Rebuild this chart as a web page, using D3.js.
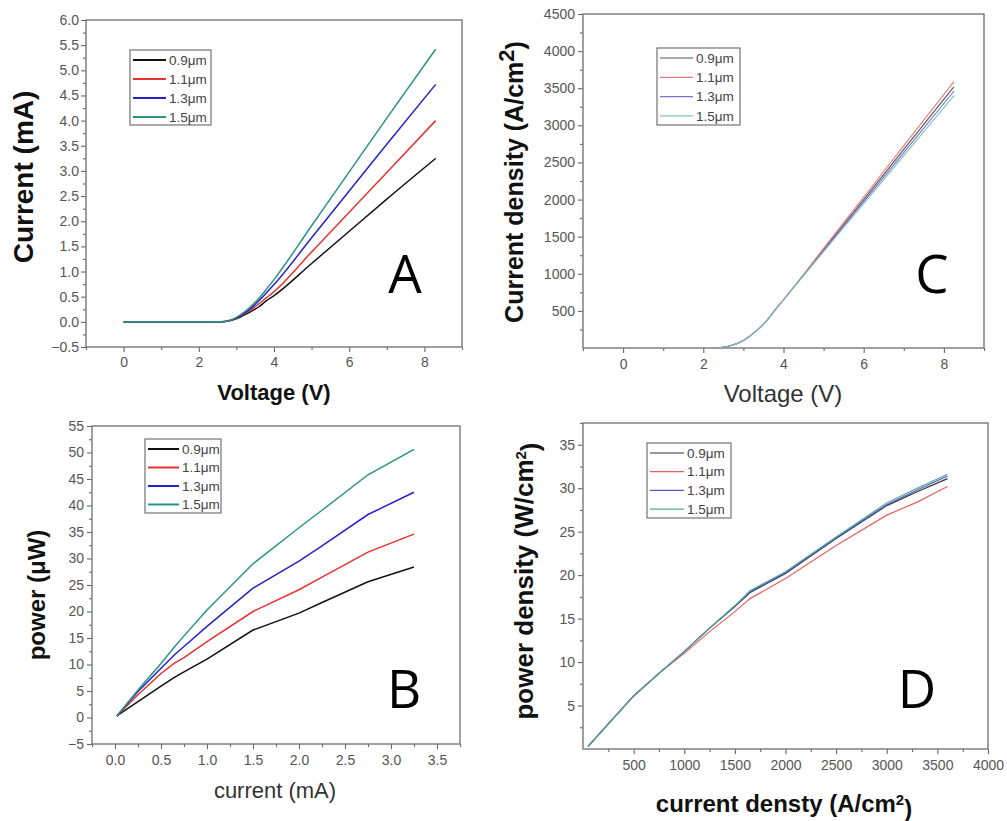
<!DOCTYPE html>
<html><head><meta charset="utf-8">
<script src="https://cdn.jsdelivr.net/npm/d3@7/dist/d3.min.js"></script>
<style>
html,body{margin:0;padding:0;background:#fff;}
svg{display:block;font-family:"Liberation Sans",Arial,sans-serif;}
.tick line{stroke:#666;stroke-width:1.1;}
.tick text{fill:#555;}
</style></head>
<body>
<svg id="chart" width="1007" height="821"></svg>
<script>
// ---------- DATA ----------
const seriesLabels = ["0.9\u03bcm", "1.1\u03bcm", "1.3\u03bcm", "1.5\u03bcm"];

// Panel A: Current (mA) vs Voltage (V)
const voltageA = [0, 1, 2, 2.6, 3.0, 3.3, 3.6, 3.8, 4.0, 5, 6, 7, 8.3];
const currentA_09 = [0, 0, 0, 0, 0.06, 0.17, 0.30, 0.42, 0.52, 1.16, 1.80, 2.44, 3.25];
const currentA_11 = [0, 0, 0, 0, 0.07, 0.20, 0.36, 0.48, 0.60, 1.39, 2.18, 2.97, 4.00];
const currentA_13 = [0, 0, 0, 0, 0.08, 0.22, 0.42, 0.58, 0.74, 1.67, 2.60, 3.53, 4.72];
const currentA_15 = [0, 0, 0, 0, 0.09, 0.25, 0.47, 0.65, 0.84, 1.91, 2.98, 4.05, 5.42];
const ticksAx = [0, 2, 4, 6, 8];
const ticksAy = [-0.5, 0, 0.5, 1, 1.5, 2, 2.5, 3, 3.5, 4, 4.5, 5, 5.5, 6];

// Panel C: Current density (A/cm2) vs Voltage (V)
const voltageC = [2.3, 2.6, 3.0, 3.3, 3.6, 3.8, 4.0, 5, 6, 7, 8.25];
const densityC_09 = [0, 20, 100, 220, 380, 520, 650, 1325, 2000, 2675, 3520];
const densityC_11 = [0, 20, 100, 220, 380, 520, 650, 1342, 2034, 2726, 3590];
const densityC_13 = [0, 20, 100, 220, 380, 520, 650, 1311, 1972, 2633, 3460];
const densityC_15 = [0, 20, 100, 220, 380, 520, 650, 1297, 1944, 2591, 3400];
const ticksCx = [0, 2, 4, 6, 8];
const ticksCy = [500, 1000, 1500, 2000, 2500, 3000, 3500, 4000, 4500];

// Panel B: power (uW) vs current (mA)
const currentB = [0.02, 0.25, 0.5, 0.65, 0.75, 1.0, 1.5, 2.0, 2.25, 2.75, 3.25];
const powerB_09 = [0.3, 3.0, 5.9, 7.6, 8.6, 11.0, 16.5, 19.7, 21.7, 25.6, 28.4];
const powerB_11 = [0.3, 4.3, 8.3, 10.3, 11.3, 14.3, 20.0, 24.1, 26.5, 31.2, 34.6];
const powerB_13 = [0.3, 4.9, 9.3, 11.9, 13.4, 17.2, 24.4, 29.5, 32.4, 38.3, 42.5];
const powerB_15 = [0.3, 5.2, 10.2, 13.4, 15.4, 20.3, 29.0, 35.8, 39.1, 45.8, 50.6];
const ticksBx = [0, 0.5, 1.0, 1.5, 2.0, 2.5, 3.0, 3.5];
const ticksBy = [-5, 0, 5, 10, 15, 20, 25, 30, 35, 40, 45, 50, 55];

// Panel D: power density (W/cm2) vs current density (A/cm2)
const densityD = [50, 250, 500, 750, 1000, 1250, 1500, 1650, 2000, 2500, 3000, 3300, 3600];
const powerD_09 = [0.3, 2.9, 6.1, 8.7, 11.2, 13.9, 16.4, 18.0, 20.2, 24.2, 28.0, 29.6, 31.1];
const powerD_11 = [0.3, 2.9, 6.1, 8.7, 11.0, 13.5, 15.8, 17.3, 19.6, 23.4, 26.9, 28.4, 30.2];
const powerD_13 = [0.3, 2.9, 6.1, 8.7, 11.2, 13.9, 16.4, 18.1, 20.3, 24.3, 28.1, 29.8, 31.4];
const powerD_15 = [0.3, 2.9, 6.1, 8.7, 11.2, 13.9, 16.5, 18.2, 20.4, 24.4, 28.3, 30.0, 31.6];
const ticksDx = [500, 1000, 1500, 2000, 2500, 3000, 3500, 4000];
const ticksDy = [5, 10, 15, 20, 25, 30, 35];

// ---------- DRAW ----------
const svg = d3.select("#chart");

function panel(cfg) {
  const g = svg.append("g");
  const x = d3.scaleLinear().domain(cfg.xDomain).range([cfg.left, cfg.right]);
  const y = d3.scaleLinear().domain(cfg.yDomain).range([cfg.bottom, cfg.top]);

  // minor ticks
  g.append("g").attr("transform", `translate(0,${cfg.bottom})`)
    .call(d3.axisBottom(x).tickValues(cfg.xMinor).tickSize(3).tickFormat(""))
    .call(s => s.select(".domain").remove());
  g.append("g").attr("transform", `translate(${cfg.left},0)`)
    .call(d3.axisLeft(y).tickValues(cfg.yMinor).tickSize(3).tickFormat(""))
    .call(s => s.select(".domain").remove());
  // major ticks
  g.append("g").attr("transform", `translate(0,${cfg.bottom})`)
    .call(d3.axisBottom(x).tickValues(cfg.xTicks).tickSize(5).tickPadding(cfg.xPad).tickFormat(cfg.xFmt))
    .call(s => s.select(".domain").remove())
    .selectAll("text").attr("font-size", cfg.tickFont);
  g.append("g").attr("transform", `translate(${cfg.left},0)`)
    .call(d3.axisLeft(y).tickValues(cfg.yTicks).tickSize(5).tickPadding(cfg.yPad).tickFormat(cfg.yFmt))
    .call(s => s.select(".domain").remove())
    .selectAll("text").attr("font-size", cfg.tickFont);

  // frame
  g.append("rect").attr("x", cfg.left).attr("y", cfg.top)
    .attr("width", cfg.right - cfg.left).attr("height", cfg.bottom - cfg.top)
    .attr("fill", "none").attr("stroke", "#777").attr("stroke-width", 1.4);

  // lines
  const line = d3.line().x(d => x(d[0])).y(d => y(d[1])).curve(cfg.curve);
  cfg.series.forEach((s, i) => {
    const pts = cfg.xs.map((v, j) => [v, s[j]]);
    g.append("path").attr("d", line(pts)).attr("fill", "none")
      .attr("stroke", cfg.colors[i]).attr("stroke-width", cfg.lw);
  });

  // legend
  const L = cfg.legend;
  g.append("rect").attr("x", L.x).attr("y", L.y).attr("width", L.w).attr("height", L.h)
    .attr("fill", "#fff").attr("stroke", "#666").attr("stroke-width", 1.1);
  seriesLabels.forEach((lab, i) => {
    const yy = L.y + L.y0 + i * L.dy;
    g.append("line").attr("x1", L.x + 3).attr("x2", L.x + 3 + L.len).attr("y1", yy).attr("y2", yy)
      .attr("stroke", cfg.colors[i]).attr("stroke-width", cfg.legLw);
    g.append("text").attr("x", L.x + 6 + L.len).attr("y", yy).attr("dy", "0.35em")
      .attr("font-size", L.font).attr("fill", "#444").text(lab);
  });

  // big letter
  g.append("text").attr("x", cfg.letter[0]).attr("y", cfg.letter[1])
    .attr("text-anchor", "middle").attr("font-family", "'Open Sans',sans-serif")
    .attr("font-size", 53).attr("fill", "#000").text(cfg.letterText);

  // x title
  const xt = g.append("text").attr("x", cfg.xTitle.x).attr("y", cfg.xTitle.y)
    .attr("text-anchor", "middle").attr("font-size", cfg.xTitle.size)
    .attr("font-weight", cfg.xTitle.bold ? "bold" : "normal").attr("fill", cfg.xTitle.bold ? "#111" : "#333");
  cfg.xTitle.parts.forEach(p => xt.append("tspan").attr("dy", p.dy || 0)
    .attr("font-size", p.size || null).text(p.t));

  // y title
  const yt = g.append("text")
    .attr("transform", `translate(${cfg.yTitle.x},${cfg.yTitle.y}) rotate(-90)`)
    .attr("text-anchor", "middle").attr("font-size", cfg.yTitle.size)
    .attr("font-weight", "bold").attr("fill", "#111");
  cfg.yTitle.parts.forEach(p => yt.append("tspan").attr("dy", p.dy || 0)
    .attr("font-size", p.size || null).text(p.t));
}

const strongColors = ["#111111", "#e8322e", "#2323c8", "#2a9384"];
const softColors = ["#555555", "#f07878", "#7a72d8", "#7cc4b4"];
const midColors = ["#333333", "#e86060", "#5555d0", "#50a898"];

const range = (a, b, s) => d3.range(a, b + s / 2, s);

panel({
  left: 86, right: 462, top: 20, bottom: 347,
  xDomain: [-1, 9], yDomain: [-0.5, 6],
  xTicks: ticksAx, yTicks: ticksAy,
  xMinor: [-1, 1, 3, 5, 7, 9], yMinor: range(-0.25, 5.75, 0.5),
  xFmt: d3.format("d"), yFmt: d3.format(".1f"),
  xPad: 5, yPad: 2, tickFont: 14,
  xs: voltageA, series: [currentA_09, currentA_11, currentA_13, currentA_15],
  colors: strongColors, lw: 1.5, legLw: 2, curve: d3.curveMonotoneX,
  legend: {x: 130, y: 50, w: 81, h: 75, y0: 10, dy: 19, len: 33, font: 13.5},
  letter: [405, 293], letterText: "A",
  xTitle: {x: 274, y: 400, size: 22, bold: true, parts: [{t: "Voltage (V)"}]},
  yTitle: {x: 33, y: 177, size: 28, parts: [{t: "Current (mA)"}]}
});

panel({
  left: 583, right: 984, top: 14, bottom: 348,
  xDomain: [-1, 9], yDomain: [0, 4500],
  xTicks: ticksCx, yTicks: ticksCy,
  xMinor: [-1, 1, 3, 5, 7, 9], yMinor: range(250, 4250, 500),
  xFmt: d3.format("d"), yFmt: d3.format("d"),
  xPad: 6, yPad: 3, tickFont: 14,
  xs: voltageC, series: [densityC_09, densityC_11, densityC_13, densityC_15],
  colors: softColors, lw: 1.1, legLw: 1.2, curve: d3.curveMonotoneX,
  legend: {x: 657, y: 48, w: 83, h: 77, y0: 10, dy: 19.3, len: 33, font: 13.5},
  letter: [932, 293], letterText: "C",
  xTitle: {x: 783, y: 402, size: 24, bold: false, parts: [{t: "Voltage (V)"}]},
  yTitle: {x: 523, y: 182, size: 25, parts: [{t: "Current density (A/cm"}, {t: "2", dy: "-0.4em", size: 22}, {t: ")", dy: "0.4em"}]}
});

panel({
  left: 92, right: 460, top: 426, bottom: 744,
  xDomain: [-0.25, 3.75], yDomain: [-5, 55],
  xTicks: ticksBx, yTicks: ticksBy,
  xMinor: range(-0.25, 3.75, 0.5), yMinor: range(-2.5, 52.5, 5),
  xFmt: d3.format(".1f"), yFmt: d3.format("d"),
  xPad: 6, yPad: 3, tickFont: 14,
  xs: currentB, series: [powerB_09, powerB_11, powerB_13, powerB_15],
  colors: strongColors, lw: 1.5, legLw: 2, curve: d3.curveLinear,
  legend: {x: 145, y: 439, w: 76, h: 74, y0: 10, dy: 18.5, len: 31, font: 13.5},
  letter: [404, 708], letterText: "B",
  xTitle: {x: 275, y: 798, size: 22, bold: false, parts: [{t: "current (mA)"}]},
  yTitle: {x: 45, y: 595, size: 24, parts: [{t: "power (\u03bcW)"}]}
});

panel({
  left: 583, right: 988, top: 423, bottom: 749,
  xDomain: [0, 4000], yDomain: [0, 37.5],
  xTicks: ticksDx, yTicks: ticksDy,
  xMinor: range(250, 3750, 500), yMinor: range(2.5, 37.5, 5),
  xFmt: d3.format("d"), yFmt: d3.format("d"),
  xPad: 6, yPad: 3, tickFont: 14,
  xs: densityD, series: [powerD_09, powerD_11, powerD_13, powerD_15],
  colors: midColors, lw: 1.2, legLw: 1.2, curve: d3.curveLinear,
  legend: {x: 647, y: 443, w: 84, h: 75, y0: 10, dy: 18.7, len: 34, font: 13.5},
  letter: [917, 708], letterText: "D",
  xTitle: {x: 784, y: 812, size: 24, bold: true, parts: [{t: "current densty (A/cm"}, {t: "2", dy: "-0.5em", size: 15}, {t: ")", dy: "0.5em"}]},
  yTitle: {x: 533, y: 581, size: 26, parts: [{t: "power density (W/cm"}, {t: "2", dy: "-0.5em", size: 15}, {t: ")", dy: "0.5em"}]}
});
</script>
</body></html>
